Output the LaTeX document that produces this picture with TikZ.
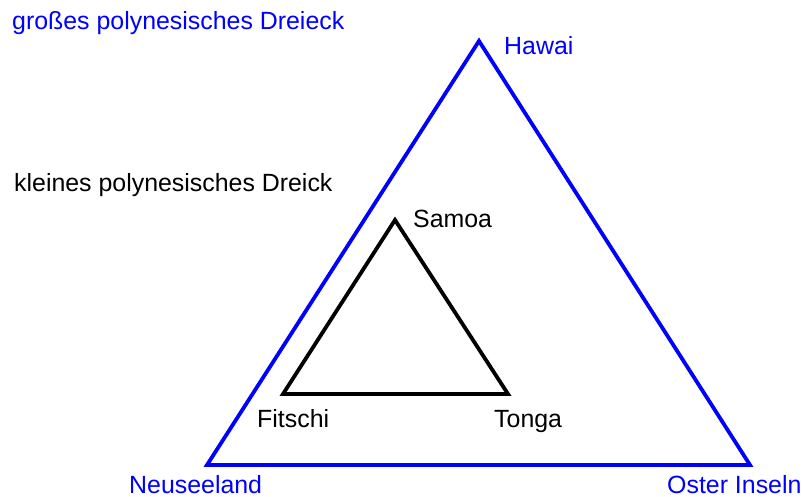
\documentclass[tikz,border=0pt]{standalone}
\usepackage{fontspec}
\setmainfont{Liberation Sans}
\usetikzlibrary{positioning}

\begin{document}
\begin{tikzpicture}[x=1pt, y=-1pt, font=\fontsize{24.9}{29}\selectfont,
  grosslabel/.style={text=blue, anchor=base west, inner sep=0pt},
  kleinlabel/.style={text=black, anchor=base west, inner sep=0pt},
  grossline/.style={draw=blue, line width=3.8pt, line join=miter},
  kleinline/.style={draw=black, line width=3.8pt, line join=miter}]
  \useasboundingbox (0,0) rectangle (803,497);

  % grosses Dreieck
  \coordinate (hawai) at (479,41);
  \coordinate (neuseeland) at (207,465);
  \coordinate (oster) at (750,465);
  \draw[grossline] (hawai) -- (neuseeland) -- (oster) -- cycle;

  \node[grosslabel] (titelgross) at (12,30) {großes polynesisches Dreieck};
  \node[grosslabel] (lhawai) at (504,55) {Hawai};
  \node[grosslabel] (lneuseeland) at (129,493) {Neuseeland};
  \node[grosslabel] (loster) at (667,493) {Oster Inseln};

  % kleines Dreieck
  \coordinate (samoa) at (395,220);
  \coordinate (fitschi) at (283,394);
  \coordinate (tonga) at (508,394);
  \draw[kleinline] (samoa) -- (fitschi) -- (tonga) -- cycle;

  \node[kleinlabel] (titelklein) at (14,192) {kleines polynesisches Dreick};
  \node[kleinlabel] (lsamoa) at (413,227) {Samoa};
  \node[kleinlabel] (lfitschi) at (257,427) {Fitschi};
  \node[kleinlabel] (ltonga) at (494,427) {Tonga};
\end{tikzpicture}
\end{document}
